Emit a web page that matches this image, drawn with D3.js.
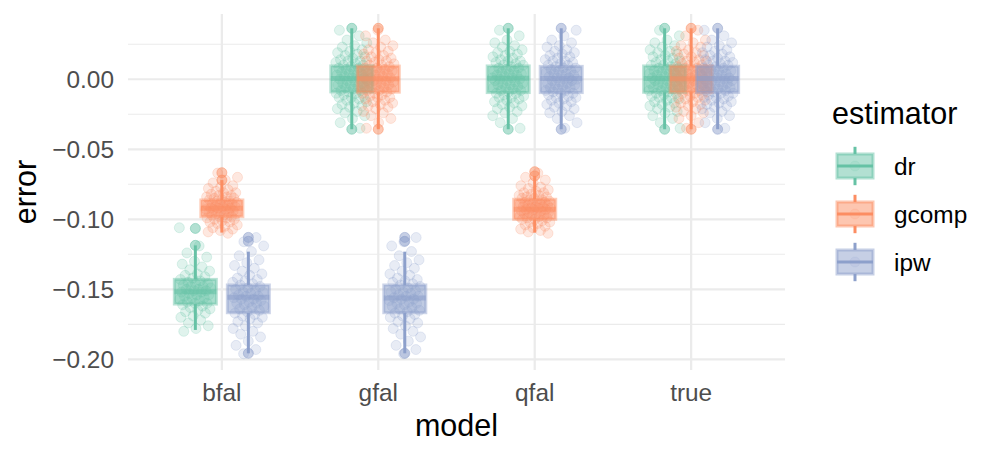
<!DOCTYPE html>
<html lang="en">
<head>
    <meta charset="UTF-8">
    <title>error by model and estimator</title>
    <script src="https://d3js.org/d3.v7.min.js"></script>
    <style>
        body { margin: 0; background: #fff; }
        text { font-family: "Liberation Sans", Arial, sans-serif; }
        .grid line { stroke: #EBEBEB; }
        .tick-label { fill: #4D4D4D; font-size: 24.4px; }
        .axis-title { fill: #000; font-size: 30.5px; }
        .legend-label { fill: #000; font-size: 24.4px; }
    </style>
</head>
<body>
    <script>
        // Categories
        var models = ["bfal", "gfal", "qfal", "true"];
        var estimators = ["dr", "gcomp", "ipw"];
        var palette = ["#66C2A5", "#FC8D62", "#8DA0CB"];

        // Box statistics, one row per group:
        // model, estimator, lower whisker, q1, median, q3, upper whisker
        var boxStats = [
            ["bfal", "dr",    -0.1790, -0.1605, -0.1517, -0.1429, -0.1186],
            ["bfal", "gcomp", -0.1095, -0.0981, -0.0921, -0.0862, -0.0720],
            ["bfal", "ipw",   -0.1957, -0.1667, -0.1557, -0.1469, -0.1231],
            ["gfal", "dr",    -0.0357, -0.0090,  0.0006,  0.0095,  0.0364],
            ["gfal", "gcomp", -0.0357, -0.0092,  0.0004,  0.0094,  0.0364],
            ["gfal", "ipw",   -0.1957, -0.1667, -0.1562, -0.1469, -0.1231],
            ["qfal", "dr",    -0.0357, -0.0095,  0.0007,  0.0095,  0.0364],
            ["qfal", "gcomp", -0.1095, -0.1000, -0.0928, -0.0857, -0.0690],
            ["qfal", "ipw",   -0.0357, -0.0095,  0.0005,  0.0092,  0.0364],
            ["true", "dr",    -0.0357, -0.0093,  0.0006,  0.0095,  0.0364],
            ["true", "gcomp", -0.0357, -0.0092,  0.0004,  0.0094,  0.0364],
            ["true", "ipw",   -0.0357, -0.0094,  0.0005,  0.0093,  0.0364]
        ];

        // Outlying points drawn by the boxplot, same order as boxStats
        var outlierVals = [
            [-0.1065, -0.1186],
            [-0.0667, -0.0720],
            [-0.1129, -0.1157, -0.1957],
            [0.0364, -0.0357],
            [0.0364, -0.0357],
            [-0.1129, -0.1157, -0.1957],
            [0.0364, -0.0357],
            [-0.0660, -0.0690],
            [0.0364, -0.0357],
            [0.0364, -0.0357],
            [0.0364, -0.0357],
            [0.0364, -0.0357]
        ];

        // Jittered raw errors
        var zeroPts = [
            0.035, 0.031, 0.028, 0.026, 0.024, 0.023, 0.021, 0.020, 0.019, 0.018,
            0.017, 0.016, 0.015, 0.014, 0.013, 0.013, 0.012, 0.011, 0.010, 0.010,
            0.009, 0.008, 0.008, 0.007, 0.006, 0.006, 0.005, 0.004, 0.004, 0.003,
            0.003, 0.002, 0.001, 0.001, 0.000, 0.000, -0.001, -0.001, -0.002, -0.003,
            -0.003, -0.004, -0.004, -0.005, -0.006, -0.006, -0.007, -0.008, -0.008, -0.009,
            -0.010, -0.010, -0.011, -0.012, -0.013, -0.013, -0.014, -0.015, -0.016, -0.017,
            -0.018, -0.019, -0.020, -0.021, -0.023, -0.024, -0.026, -0.028, -0.031, -0.035
        ];
        var gcompPts = [
            -0.067, -0.070, -0.072, -0.074, -0.076, -0.077, -0.078, -0.079, -0.080, -0.081,
            -0.081, -0.082, -0.083, -0.083, -0.084, -0.084, -0.085, -0.085, -0.086, -0.086,
            -0.087, -0.087, -0.088, -0.088, -0.089, -0.089, -0.089, -0.090, -0.090, -0.091,
            -0.091, -0.091, -0.092, -0.092, -0.092, -0.093, -0.093, -0.093, -0.094, -0.094,
            -0.095, -0.095, -0.096, -0.096, -0.097, -0.097, -0.098, -0.098, -0.099, -0.099,
            -0.100, -0.100, -0.101, -0.102, -0.102, -0.103, -0.104, -0.105, -0.106, -0.107,
            -0.108, -0.109, -0.110
        ];
        var ipwPts = [
            -0.113, -0.116, -0.119, -0.123, -0.126, -0.129, -0.131, -0.133, -0.135, -0.137,
            -0.139, -0.140, -0.142, -0.143, -0.144, -0.145, -0.146, -0.147, -0.148, -0.149,
            -0.150, -0.151, -0.152, -0.152, -0.153, -0.154, -0.155, -0.155, -0.156, -0.157,
            -0.157, -0.158, -0.159, -0.160, -0.160, -0.161, -0.162, -0.163, -0.164, -0.165,
            -0.166, -0.167, -0.168, -0.169, -0.170, -0.171, -0.173, -0.174, -0.176, -0.178,
            -0.180, -0.182, -0.184, -0.187, -0.190, -0.193, -0.196
        ];
        var drBfalPts = [
            -0.106, -0.119, -0.124, -0.127, -0.130, -0.132, -0.134, -0.136, -0.137, -0.139,
            -0.140, -0.141, -0.142, -0.143, -0.144, -0.145, -0.146, -0.146, -0.147, -0.148,
            -0.148, -0.149, -0.150, -0.150, -0.151, -0.151, -0.152, -0.152, -0.153, -0.154,
            -0.154, -0.155, -0.156, -0.156, -0.157, -0.158, -0.159, -0.160, -0.160, -0.161,
            -0.162, -0.163, -0.164, -0.165, -0.166, -0.167, -0.169, -0.170, -0.172, -0.174,
            -0.176, -0.178, -0.180
        ];
        // which cloud belongs to which group (same order as boxStats)
        var cloudOf = [drBfalPts, gcompPts, ipwPts, zeroPts, zeroPts, ipwPts,
                       zeroPts, gcompPts, zeroPts, zeroPts, zeroPts, zeroPts];

        var yMajor = [-0.20, -0.15, -0.10, -0.05, 0.00];
        var yMinor = [-0.175, -0.125, -0.075, -0.025, 0.025];

        // Layout
        var panel = {left: 128, right: 785, top: 14, bottom: 370};

        var svg = d3.select("body").append("svg")
            .attr("width", 1000)
            .attr("height", 459);

        svg.append("rect").attr("width", 1000).attr("height", 459).attr("fill", "#fff");

        var x = d3.scalePoint()
            .domain(models)
            .range([panel.left, panel.right])
            .padding(0.6);

        var dodge = d3.scalePoint()
            .domain(estimators)
            .range([-26.5, 26.5]);

        var y = d3.scaleLinear()
            .domain([-0.2076, 0.0466])
            .range([panel.bottom, panel.top]);

        var color = d3.scaleOrdinal().domain(estimators).range(palette);

        // Grid
        var grid = svg.append("g").attr("class", "grid");
        grid.selectAll(".minor")
            .data(yMinor)
            .enter().append("line")
            .attr("x1", panel.left).attr("x2", panel.right)
            .attr("y1", function(d) { return y(d); })
            .attr("y2", function(d) { return y(d); })
            .attr("stroke-width", 1.1);
        grid.selectAll(".major")
            .data(yMajor)
            .enter().append("line")
            .attr("x1", panel.left).attr("x2", panel.right)
            .attr("y1", function(d) { return y(d); })
            .attr("y2", function(d) { return y(d); })
            .attr("stroke-width", 2.2);
        grid.selectAll(".vmajor")
            .data(models)
            .enter().append("line")
            .attr("x1", function(d) { return x(d); })
            .attr("x2", function(d) { return x(d); })
            .attr("y1", panel.top).attr("y2", panel.bottom)
            .attr("stroke-width", 2.2);

        // Tick labels
        var fmt = d3.format(".2f");
        svg.selectAll(".ylab")
            .data(yMajor)
            .enter().append("text")
            .attr("class", "tick-label")
            .attr("x", 114)
            .attr("y", function(d) { return y(d); })
            .attr("dy", "0.36em")
            .attr("text-anchor", "end")
            .text(function(d) { return fmt(d); });

        svg.selectAll(".xlab")
            .data(models)
            .enter().append("text")
            .attr("class", "tick-label")
            .attr("x", function(d) { return x(d); })
            .attr("y", 401)
            .attr("text-anchor", "middle")
            .text(function(d) { return d; });

        // Axis titles
        svg.append("text")
            .attr("class", "axis-title")
            .attr("x", (panel.left + panel.right) / 2)
            .attr("y", 436)
            .attr("text-anchor", "middle")
            .text("model");

        svg.append("text")
            .attr("class", "axis-title")
            .attr("transform", "translate(36," + (panel.top + panel.bottom) / 2 + ") rotate(-90)")
            .attr("text-anchor", "middle")
            .text("error");

        // Jittered points
        var jitterHalf = 16;
        function frac(v) { return v - Math.floor(v); }

        var groups = boxStats.map(function(r, gi) {
            return {
                model: r[0], est: r[1],
                lo: r[2], q1: r[3], med: r[4], q3: r[5], hi: r[6],
                outliers: outlierVals[gi],
                pts: cloudOf[gi],
                cx: x(r[0]) + dodge(r[1]),
                gi: gi
            };
        });

        var pointLayer = svg.append("g");
        groups.forEach(function(g) {
            pointLayer.append("g")
                .selectAll("circle")
                .data(g.pts)
                .enter().append("circle")
                .attr("cx", function(d, i) {
                    return g.cx + (frac(i * 0.6180339 + g.gi * 0.371) - 0.5) * 2 * jitterHalf;
                })
                .attr("cy", function(d) { return y(d); })
                .attr("r", 5)
                .attr("fill", color(g.est))
                .attr("fill-opacity", 0.2)
                .attr("stroke", color(g.est))
                .attr("stroke-opacity", 0.2)
                .attr("stroke-width", 1);
        });

        // Boxplots
        var boxHalf = 21;
        var boxLayer = svg.append("g");
        groups.forEach(function(g) {
            var c = color(g.est);
            var b = boxLayer.append("g");
            b.append("line")
                .attr("x1", g.cx).attr("x2", g.cx)
                .attr("y1", y(g.hi)).attr("y2", y(g.q3))
                .attr("stroke", c).attr("stroke-width", 3);
            b.append("line")
                .attr("x1", g.cx).attr("x2", g.cx)
                .attr("y1", y(g.q1)).attr("y2", y(g.lo))
                .attr("stroke", c).attr("stroke-width", 3);
            b.append("rect")
                .attr("x", g.cx - boxHalf)
                .attr("y", y(g.q3))
                .attr("width", boxHalf * 2)
                .attr("height", y(g.q1) - y(g.q3))
                .attr("fill", c).attr("fill-opacity", 0.55)
                .attr("stroke", c).attr("stroke-opacity", 0.45)
                .attr("stroke-width", 3);
            b.append("line")
                .attr("x1", g.cx - boxHalf).attr("x2", g.cx + boxHalf)
                .attr("y1", y(g.med)).attr("y2", y(g.med))
                .attr("stroke", c).attr("stroke-opacity", 0.6).attr("stroke-width", 5);
            b.selectAll(".out")
                .data(g.outliers)
                .enter().append("circle")
                .attr("cx", g.cx)
                .attr("cy", function(d) { return y(d); })
                .attr("r", 5)
                .attr("fill", c).attr("fill-opacity", 0.5)
                .attr("stroke", c).attr("stroke-opacity", 0.5)
                .attr("stroke-width", 1);
        });

        // Legend
        var legend = svg.append("g");
        legend.append("text")
            .attr("class", "axis-title")
            .attr("x", 832)
            .attr("y", 124)
            .text("estimator");

        var keySize = 48;
        var keys = legend.selectAll(".key")
            .data(estimators)
            .enter().append("g")
            .attr("transform", function(d, i) {
                return "translate(831," + (142 + i * keySize) + ")";
            });

        keys.append("line")
            .attr("x1", keySize / 2).attr("x2", keySize / 2)
            .attr("y1", keySize * 0.1).attr("y2", keySize * 0.9)
            .attr("stroke", function(d) { return color(d); })
            .attr("stroke-width", 3);
        keys.append("rect")
            .attr("x", keySize * 0.125).attr("y", keySize * 0.25)
            .attr("width", keySize * 0.75).attr("height", keySize * 0.5)
            .attr("fill", "#fff");
        keys.append("rect")
            .attr("x", keySize * 0.125).attr("y", keySize * 0.25)
            .attr("width", keySize * 0.75).attr("height", keySize * 0.5)
            .attr("fill", function(d) { return color(d); }).attr("fill-opacity", 0.5)
            .attr("stroke", function(d) { return color(d); }).attr("stroke-opacity", 0.5)
            .attr("stroke-width", 3);
        keys.append("line")
            .attr("x1", keySize * 0.125).attr("x2", keySize * 0.875)
            .attr("y1", keySize / 2).attr("y2", keySize / 2)
            .attr("stroke", function(d) { return color(d); })
            .attr("stroke-width", 3);
        keys.append("circle")
            .attr("cx", keySize / 2).attr("cy", keySize / 2).attr("r", 5)
            .attr("fill", function(d) { return color(d); }).attr("fill-opacity", 0.12)
            .attr("stroke", function(d) { return color(d); }).attr("stroke-opacity", 0.12);

        keys.append("text")
            .attr("class", "legend-label")
            .attr("x", 63)
            .attr("y", keySize / 2)
            .attr("dy", "0.36em")
            .text(function(d) { return d; });
    </script>
</body>
</html>
